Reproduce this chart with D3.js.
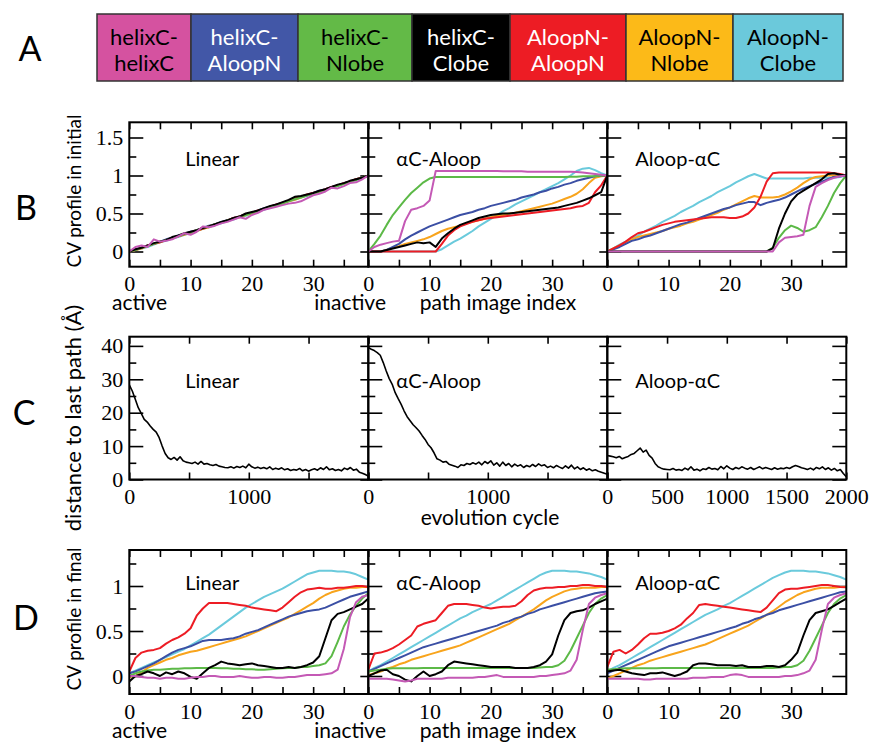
<!DOCTYPE html>
<html>
<head>
<meta charset="utf-8">
<script src="https://cdn.jsdelivr.net/npm/d3@7"></script>
<style>
 body { margin: 0; background: #fff; }
</style>
</head>
<body>
<div id="chart"></div>
<script>
// ---- data ----
const seriesNames = ["helixC-helixC", "helixC-AloopN", "helixC-Nlobe", "helixC-Clobe", "AloopN-AloopN", "AloopN-Nlobe", "AloopN-Clobe"];
const lineColors = ["#c459b5", "#3b4fa4", "#5cb947", "#000000", "#ed1c24", "#f8a41c", "#6acadc"];
const legendFill = ["#d552a0", "#4257a7", "#63ba47", "#000000", "#ed1c24", "#fcba18", "#6bc9db"];
const legendText = ["#000", "#fff", "#000", "#fff", "#fff", "#000", "#000"];
const panelTitles = ["Linear", "αC-Aloop", "Aloop-αC"];

const pathIndex = [0,1,2,3,4,5,6,7,8,9,10,11,12,13,14,15,16,17,18,19,20,21,22,23,24,25,26,27,28,29,30,31,32,33,34,35,36,37,38,39];
const pathTicks = [0, 5, 10, 15, 20, 25, 30, 35];
const pathTickLabels = [0, 10, 20, 30];

// B: CV profile in initial path (order = seriesNames)
const bLinear_hh = [0,.06,.08,.06,.16, .13,.14,.16,.2,.24, .22,.26,.33,.32,.34, .37,.39,.42,.45,.43, .48,.51,.55,.57,.59, .61,.63,.64,.66,.7, .74,.76,.79,.84,.83, .86,.9,.91,.95,1];
const bLinear_hA = [0,.03,.05,.08,.1, .13,.16,.18,.21,.23, .26,.28,.31,.34,.36, .39,.41,.44,.46,.49, .51,.54,.57,.59,.62, .64,.67,.69,.72,.74, .77,.8,.82,.85,.87, .9,.92,.95,.97,1];
const bLinear_hN = [0,.02,.05,.07,.1, .13,.15,.18,.2,.23, .25,.28,.31,.33,.36, .38,.41,.43,.46,.48, .51,.53,.56,.58,.61, .63,.66,.69,.71,.74, .76,.79,.81,.84,.86, .89,.92,.94,.97,1];
const bLinear_hC = [0,.03,.05,.08,.11, .13,.15,.19,.21,.24, .26,.28,.31,.33,.36, .39,.41,.44,.46,.5, .52,.54,.57,.6,.62, .65,.68,.72,.73,.75, .77,.8,.82,.85,.88, .9,.93,.95,.97,1];
const bLinear_AA = [0,.02,.05,.08,.1, .12,.15,.18,.2,.23, .25,.28,.3,.33,.36, .38,.41,.44,.46,.49, .51,.54,.56,.59,.62, .64,.67,.7,.72,.75, .77,.79,.82,.85,.87, .9,.92,.95,.97,1];
const bLinear_AN = [0,.02,.04,.07,.1, .12,.15,.17,.2,.22, .25,.27,.3,.32,.35, .38,.4,.43,.45,.48, .5,.53,.56,.58,.61, .63,.66,.68,.71,.74, .76,.79,.81,.84,.87, .89,.92,.95,.97,1];
const bLinear_AC = [0,.02,.04,.06,.09, .12,.14,.17,.19,.22, .24,.27,.3,.32,.35, .37,.4,.42,.45,.47, .5,.53,.55,.58,.6, .63,.66,.68,.71,.73, .76,.79,.81,.84,.86, .89,.92,.94,.97,1];

const bCA_hh = [0,.06,.09,.11,.13, .14,.4,.55,.57,.6, .67,1.06,1.06,1.06,1.06, 1.06,1.06,1.06,1.06,1.06, 1.06,1.06,1.055,1.055,1.055, 1.055,1.05,1.05,1.05,1.05, 1.05,1.05,1.05,1.05,1.045, 1.04,1.03,1.02,1.01,1];
const bCA_hA = [0,0,0,.02,.06, .1,.16,.21,.25,.29, .33,.36,.39,.42,.45, .48,.5,.52,.55,.57, .6,.62,.64,.66,.68, .71,.73,.75,.78,.8, .83,.85,.88,.9,.93, .95,.97,.99,1,1];
const bCA_hN = [0,.1,.21,.35,.48, .58,.68,.77,.84,.91, .96,.98,.98,.98,.98, .98,.98,.98,.98,.98, .98,.98,.98,.98,.98, .98,.98,.98,.98,.98, .98,.98,.98,.985,.985, .99,.99,.99,1,1];
const bCA_hC = [0,0,0,.02,.04, .06,.08,.1,.12,.11, .12,.06,.17,.24,.3, .35,.38,.41,.44,.46, .48,.49,.5,.5,.51, .52,.53,.54,.55,.56, .57,.58,.6,.62,.64, .67,.7,.74,.78,1];
const bCA_AA = [0,0,0,0,0, 0,0,0,0,0, 0,0,.1,.21,.28, .33,.36,.39,.41,.43, .44,.45,.46,.47,.48, .49,.5,.51,.52,.53, .54,.55,.56,.57,.59, .6,.64,.78,.87,1];
const bCA_AN = [0,0,0,.02,.05, .07,.1,.12,.14,.16, .19,.23,.27,.3,.32, .34,.37,.39,.41,.43, .45,.47,.48,.5,.51, .53,.55,.57,.59,.61, .63,.66,.69,.72,.76, .82,.9,.97,.99,1];
const bCA_AC = [0,0,0,0,0, 0,0,0,0,0, 0,0,.03,.08,.13, .17,.22,.27,.33,.38, .43,.48,.53,.57,.62, .66,.7,.74,.78,.82, .86,.9,.95,1,1.06, 1.09,1.1,1.07,1.03,1];

const bAC_hh = [0,0,0,0,0, 0,0,0,0,0, 0,0,0,0,0, 0,0,0,0,0, 0,0,0,0,0, 0,0,0,.12,.18, .19,.2,.22,.6,.85, .9,.94,.97,.99,1];
const bAC_hA = [0,.03,.06,.1,.14, .16,.19,.21,.24,.27, .3,.33,.36,.38,.41, .44,.47,.5,.53,.56, .58,.61,.63,.65,.65, .61,.64,.66,.68,.71, .75,.79,.83,.86,.89, .92,.95,.98,.99,1];
const bAC_hN = [0,0,0,0,0, 0,0,0,0,0, 0,0,0,0,0, 0,0,0,0,0, 0,0,0,0,0, 0,0,.05,.18,.28, .34,.31,.26,.28,.32, .45,.6,.77,.9,1];
const bAC_hC = [0,0,0,0,0, 0,0,0,0,0, 0,0,0,0,0, 0,0,0,0,0, 0,0,0,0,0, 0,0,.04,.3,.5, .66,.75,.8,.85,.9, .95,1.02,1.03,1.01,1];
const bAC_AA = [0,.04,.08,.13,.19, .24,.26,.29,.32,.35, .37,.39,.4,.41,.42, .43,.44,.45,.45,.45, .44,.44,.46,.5,.58, .72,.92,1.03,1.04,1.04, 1.04,1.04,1.04,1.04,1.04, 1.04,1.04,1.03,1.02,1];
const bAC_AN = [0,.04,.08,.12,.16, .19,.21,.23,.25,.27, .3,.32,.34,.37,.39, .42,.45,.48,.51,.55, .58,.62,.66,.7,.73, .71,.71,.71,.72,.75, .79,.84,.9,.95,.98, .99,1,1,1,1];
const bAC_AC = [0,.04,.09,.13,.17, .21,.26,.3,.34,.39, .43,.47,.52,.56,.6, .65,.69,.73,.78,.82, .86,.91,.95,.99,1.02, .99,.96,.96,.96,.96, .96,.96,.96,.97,.97, .97,.97,.97,.98,1];

// D: CV profile in final path
const dLinear_hh = [0,0,-.01,-.02,-.02, -.03,-.02,-.02,-.03,-.03, -.02,-.01,-.01,0,0, -.01,-.01,-.01,0,-.01, -.02,-.02,-.01,-.01,-.02, -.02,-.01,-.01,0,.01, .01,.01,.02,.03,.07, .3,.65,.82,.88,.9];
const dLinear_hA = [.03,.05,.08,.11,.14, .18,.22,.26,.29,.31, .33,.36,.39,.4,.4, .4,.41,.42,.44,.47, .49,.51,.54,.57,.6, .63,.66,.68,.7,.72, .73,.74,.76,.79,.82, .85,.88,.9,.92,.94];
const dLinear_hN = [0,.03,.05,.06,.07, .07,.075,.08,.08,.085, .085,.09,.09,.09,.09, .085,.085,.08,.08,.075, .075,.07,.07,.075,.08, .085,.09,.09,.1,.1, .11,.12,.14,.22,.38, .55,.68,.78,.86,.92];
const dLinear_hC = [-.06,0,.02,.05,.03, 0,.04,.02,.05,.03, -.01,-.03,.03,.09,.12, .16,.14,.13,.12,.13, .14,.12,.11,.1,.09, .09,.1,.09,.1,.12, .15,.22,.42,.62,.69, .71,.74,.77,.8,.86];
const dLinear_AA = [.05,.2,.26,.28,.29, .31,.36,.4,.43,.47, .53,.67,.75,.81,.81, .81,.81,.8,.79,.78, .76,.75,.74,.73,.72, .76,.82,.88,.93,.96, .97,.98,.97,.97,.98, .98,.99,1,1,.99];
const dLinear_AN = [-.01,0,.04,.09,.12, .15,.18,.2,.23,.25, .27,.28,.3,.32,.34, .36,.38,.4,.42,.44, .47,.5,.53,.56,.59, .62,.65,.69,.73,.77, .81,.86,.9,.93,.95, .97,.98,.98,.99,.99];
const dLinear_AC = [.03,.06,.09,.12,.15, .18,.21,.24,.27,.3, .34,.38,.42,.46,.51, .56,.61,.66,.71,.76, .8,.84,.88,.91,.94, .97,1.01,1.05,1.09,1.13, 1.15,1.17,1.17,1.17,1.16, 1.16,1.15,1.13,1.1,1.07];

const dCA_hh = [-.03,-.03,-.03,-.03,-.04, -.05,-.06,-.05,-.03,-.03, -.03,-.03,-.03,-.02,-.02, -.02,-.02,-.02,-.01,-.01, 0,.01,-.01,-.01,-.01, -.01,-.01,-.01,0,0, .01,.02,.03,.06,.18, .51,.8,.87,.9,.92];
const dCA_hA = [.05,.08,.11,.14,.17, .2,.23,.26,.29,.32, .34,.36,.38,.4,.42, .44,.46,.48,.5,.52, .54,.56,.59,.61,.64, .66,.69,.71,.74,.76, .78,.8,.82,.84,.86, .88,.9,.92,.93,.94];
const dCA_hN = [.05,.06,.07,.08,.085, .085,.085,.085,.085,.09, .09,.09,.09,.09,.09, .09,.09,.09,.09,.09, .09,.09,.09,.09,.09, .09,.09,.09,.095,.1, .1,.12,.17,.28,.42, .56,.7,.8,.86,.9];
const dCA_hC = [0,.03,.06,.07,.02, 0,-.04,-.06,0,.05, 0,.02,.05,.12,.16, .15,.14,.13,.12,.11, .1,.1,.1,.1,.09, .09,.09,.1,.12,.16, .24,.45,.62,.7,.72, .73,.76,.8,.83,.86];
const dCA_AA = [.07,.25,.26,.28,.31, .35,.4,.45,.55,.58, .6,.62,.7,.78,.8, .8,.8,.79,.78,.76, .75,.76,.77,.77,.78, .83,.9,.95,.97,.98, .98,.99,.99,1,1, 1.01,1.01,1,1,.99];
const dCA_AN = [.01,.03,.05,.08,.1, .13,.15,.18,.2,.22, .24,.26,.28,.3,.32, .34,.37,.4,.43,.46, .49,.52,.55,.58,.62, .66,.7,.74,.79,.84, .88,.91,.94,.96,.97, .98,.98,.98,.99,.99];
const dCA_AC = [.05,.09,.12,.16,.2, .24,.28,.32,.36,.4, .44,.48,.52,.56,.6, .64,.67,.71,.74,.77, .8,.84,.88,.92,.96, 1,1.04,1.08,1.12,1.15, 1.17,1.17,1.17,1.16,1.16, 1.15,1.14,1.12,1.1,1.07];

const dAC_hh = [-.03,-.03,-.03,-.03,-.03, -.03,-.04,-.04,-.03,-.03, -.03,-.03,-.03,-.03,-.02, -.02,-.02,-.01,-.01,-.01, .01,.02,.01,-.01,-.01, -.01,-.01,-.01,-.01,0, 0,.01,.03,.06,.18, .51,.8,.87,.9,.92];
const dAC_hA = [.03,.06,.09,.12,.15, .18,.21,.24,.27,.3, .33,.35,.37,.39,.41, .43,.45,.47,.49,.51, .53,.55,.58,.6,.63, .65,.68,.7,.73,.75, .77,.79,.81,.83,.85, .87,.89,.91,.93,.94];
const dAC_hN = [.07,.075,.08,.085,.085, .085,.085,.085,.085,.09, .09,.09,.09,.09,.09, .09,.09,.09,.09,.09, .09,.09,.09,.09,.09, .09,.09,.09,.095,.1, .1,.12,.17,.28,.42, .56,.7,.8,.86,.9];
const dAC_hC = [.05,.06,.07,.05,.03, .02,.01,.03,.03,.04, .02,0,.02,.05,.12, .14,.14,.13,.12,.12, .12,.11,.12,.1,.1, .1,.11,.11,.1,.12, .18,.26,.45,.62,.7, .72,.74,.78,.82,.86];
const dAC_AA = [.1,.27,.29,.25,.29, .35,.42,.47,.47,.48, .5,.53,.57,.64,.7, .79,.8,.79,.78,.77, .76,.75,.74,.73,.72, .71,.76,.84,.92,.96, .97,.97,.98,.99,1, 1.01,1.01,1,.99,.985];
const dAC_AN = [-.03,0,.03,.06,.09, .12,.14,.17,.19,.21, .23,.25,.27,.29,.31, .33,.35,.38,.41,.44, .47,.5,.53,.56,.6, .64,.68,.72,.77,.82, .86,.9,.93,.95,.97, .98,.98,.98,.99,.99];
const dAC_AC = [.05,.09,.12,.16,.2, .24,.28,.32,.36,.4, .44,.48,.52,.56,.6, .64,.68,.71,.74,.78, .81,.85,.89,.93,.97, 1.01,1.05,1.09,1.12,1.15, 1.17,1.17,1.17,1.16,1.16, 1.15,1.14,1.12,1.1,1.07];

// C: distance to last path (Å) vs evolution cycle
const cycles = [0,25,50,75,100,125,150,175,200,225, 250,275,300,325,350,375,400,425,450,475, 500,525,550,575,600,625,650,675,700,725, 750,775,800,825,850,875,900,925,950,975, 1000,1025,1050,1075,1100,1125,1150,1175,1200,1225, 1250,1275,1300,1325,1350,1375,1400,1425,1450,1475, 1500,1525,1550,1575,1600,1625,1650,1675,1700,1725, 1750,1775,1800,1825,1850,1875,1900,1925,1950,1975, 2000];
const cycleTicks = [0, 500, 1000, 1500, 2000];
const cLinear = [28.3,26.5,24.0,21.5,19.8,18.0,17.2,16.0,15.0,14.2, 12.5,10.0,7.8,6.5,6.0,6.6,5.8,6.8,5.6,5.2, 5.0,4.8,5.2,4.6,5.4,4.6,4.8,4.4,4.2,4.5, 4.0,3.8,3.6,3.5,3.8,3.4,3.9,3.6,4.0,3.5, 4.6,3.8,3.4,3.7,3.3,3.6,3.2,3.8,3.0,3.4, 3.1,3.5,2.9,3.2,2.7,3.0,2.8,3.3,2.6,3.0, 2.5,2.9,3.2,2.8,3.5,3.0,3.8,2.9,3.2,2.7, 3.0,2.6,3.4,3.0,3.6,2.8,3.1,2.2,1.9,1.5, 1.0];
const cCA = [39.5,39.0,38.6,38.0,37.2,35.0,32.5,30.2,28.5,26.0, 24.2,22.5,20.5,18.8,17.6,16.4,15.5,14.5,13.2,12.0, 10.5,9.5,8.0,6.2,5.8,5.2,5.4,4.6,4.3,4.0, 3.6,4.4,4.2,4.8,4.5,5.0,4.6,5.2,4.4,5.4, 4.8,5.6,4.3,5.0,4.0,5.2,4.2,4.8,3.8,4.6, 4.0,4.4,3.6,4.2,3.8,4.5,3.9,4.7,4.1,4.4, 3.6,4.0,3.5,4.2,3.7,3.3,4.1,3.4,4.3,3.2, 3.8,3.0,3.5,2.8,3.2,2.6,2.9,2.5,2.2,1.9, 1.6];
const cAC = [7.2,7.0,6.8,6.5,6.9,6.2,6.6,6.9,7.5,7.8, 8.6,9.4,8.2,8.8,7.2,6.4,4.8,3.8,3.4,3.1, 3.0,2.9,3.3,2.8,3.0,2.7,3.4,2.9,3.8,2.8, 3.1,2.6,3.2,3.0,3.6,3.1,3.3,2.9,3.9,3.2, 4.1,3.4,3.0,3.6,3.2,3.8,3.4,3.1,3.6,3.0, 3.4,3.8,3.2,3.6,3.3,3.0,3.5,3.1,3.4,3.2, 3.6,3.3,3.8,4.2,3.9,3.5,3.3,3.0,3.4,2.9, 3.6,3.2,3.8,3.0,3.5,2.8,3.3,2.6,3.0,1.8, 0.8];

// series in each panel (same order as seriesNames)
const bPanels = [
 [bLinear_hh, bLinear_hA, bLinear_hN, bLinear_hC, bLinear_AA, bLinear_AN, bLinear_AC],
 [bCA_hh, bCA_hA, bCA_hN, bCA_hC, bCA_AA, bCA_AN, bCA_AC],
 [bAC_hh, bAC_hA, bAC_hN, bAC_hC, bAC_AA, bAC_AN, bAC_AC]
];
const dPanels = [
 [dLinear_hh, dLinear_hA, dLinear_hN, dLinear_hC, dLinear_AA, dLinear_AN, dLinear_AC],
 [dCA_hh, dCA_hA, dCA_hN, dCA_hC, dCA_AA, dCA_AN, dCA_AC],
 [dAC_hh, dAC_hA, dAC_hN, dAC_hC, dAC_AA, dAC_AN, dAC_AC]
];
const cPanels = [cLinear, cCA, cAC];

// ---- layout ----
const width = 869, height = 744;
const panelX = [129.3, 368.3, 607.3];
const panelW = 239;
const rowB = { top: 122.3, h: 144.4, y: [-0.2, 1.7] };
const rowC = { top: 336.7, h: 142.8, y: [0, 42.75] };
const rowD = { top: 550, h: 144, y: [-0.2, 1.4] };
const drawOrder = [6, 5, 1, 4, 2, 3, 0];

const serif = "'Liberation Serif', 'Times New Roman', Times, serif";
const sans = "Lato, 'Open Sans', sans-serif";

const svg = d3.select("#chart").append("svg").attr("width", width).attr("height", height);
svg.append("rect").attr("width", width).attr("height", height).attr("fill", "#fff");

function styleAxis(sel) {
 sel.attr("font-family", null).attr("font-size", null);
 sel.select(".domain").remove();
 sel.selectAll("line").attr("stroke", "#000").attr("stroke-width", 1.6);
 sel.selectAll("text").filter(function () { return !this.textContent; }).remove();
 sel.selectAll("text")
  .attr("font-family", serif)
  .style("font-family", serif)
  .style("font-size", "22px")
  .attr("fill", "#000");
}

const numFmt = (d) => String(d);

function makePanel(row, col, xDomain, xTicks, xLabels, yMajor, yMinor, panelId) {
 const g = svg.append("g").attr("transform", `translate(${panelX[col]},${row.top})`);
 const x = d3.scaleLinear().domain(xDomain).range([0, panelW]);
 const y = d3.scaleLinear().domain(row.y).range([row.h, 0]);

 g.append("clipPath").attr("id", "clip" + panelId)
  .append("rect").attr("width", panelW).attr("height", row.h);

 // bottom ticks + labels
 g.append("g").attr("transform", `translate(0,${row.h})`)
  .call(d3.axisBottom(x).tickValues(xTicks).tickSize(-7).tickFormat(""))
  .call(styleAxis);
 g.append("g").attr("transform", `translate(0,${row.h})`)
  .call(d3.axisBottom(x).tickValues(xLabels).tickSize(0).tickPadding(9).tickFormat(numFmt))
  .call(styleAxis);
 // top ticks
 g.append("g")
  .call(d3.axisTop(x).tickValues(xTicks).tickSize(-7).tickFormat(""))
  .call(styleAxis);
 // left ticks
 const left = d3.axisLeft(y).tickValues(yMajor).tickSize(-14).tickPadding(6).tickFormat(numFmt);
 if (col > 0) left.tickFormat("");
 g.append("g").call(left).call(styleAxis);
 g.append("g").call(d3.axisLeft(y).tickValues(yMinor).tickSize(-7).tickFormat("")).call(styleAxis);
 // right ticks
 g.append("g").attr("transform", `translate(${panelW},0)`)
  .call(d3.axisRight(y).tickValues(yMajor).tickSize(col === 2 ? -14 : -8).tickFormat(""))
  .call(styleAxis);
 g.append("g").attr("transform", `translate(${panelW},0)`)
  .call(d3.axisRight(y).tickValues(yMinor).tickSize(-7).tickFormat(""))
  .call(styleAxis);

 const plot = g.append("g").attr("clip-path", `url(#clip${panelId})`);
 return { g, x, y, plot };
}

function frame(p, row) {
 p.g.append("rect").attr("width", panelW).attr("height", row.h)
  .attr("fill", "none").attr("stroke", "#000").attr("stroke-width", 2);
}

// ---- B and D rows ----
[[rowB, bPanels, "b"], [rowD, dPanels, "d"]].forEach(([row, panels, key]) => {
 const yMajor = key === "b" ? [0, 0.5, 1, 1.5] : [0, 0.5, 1];
 const yMinor = [0.25, 0.75, 1.25];
 panels.forEach((series, col) => {
  const p = makePanel(row, col, [0, 39], pathTicks, pathTickLabels, yMajor, yMinor, key + col);
  const line = d3.line().x((d, i) => p.x(pathIndex[i])).y((d) => p.y(d));
  drawOrder.forEach((s) => {
   p.plot.append("path")
    .attr("d", line(series[s]))
    .attr("fill", "none")
    .attr("stroke", lineColors[s])
    .attr("stroke-width", 2)
    .attr("stroke-linejoin", "round");
  });
  frame(p, row);
 });
});

// ---- C row ----
cPanels.forEach((vals, col) => {
 const labels = col === 2 ? cycleTicks : [0, 1000];
 const p = makePanel(rowC, col, [0, 2000], cycleTicks, labels, [0, 10, 20, 30, 40], [5, 15, 25, 35], "c" + col);
 const line = d3.line().x((d, i) => p.x(cycles[i])).y((d) => p.y(d));
 p.plot.append("path")
  .attr("d", line(vals))
  .attr("fill", "none")
  .attr("stroke", "#000")
  .attr("stroke-width", 1.6)
  .attr("stroke-linejoin", "round");
 frame(p, rowC);
});

// ---- panel titles ----
const titleBase = [166, 388, 590];
titleBase.forEach((yb) => {
 panelTitles.forEach((t, col) => {
  svg.append("text")
   .attr("x", panelX[col] + (col === 0 ? 56 : 28))
   .attr("y", yb)
   .attr("font-family", sans)
   .attr("font-size", 20)
   .text(t);
 });
});

// ---- axis titles ----
function sansText(x, y, t, anchor, size) {
 return svg.append("text").attr("x", x).attr("y", y)
  .attr("font-family", sans).attr("font-size", size || 21)
  .attr("text-anchor", anchor || "start").text(t);
}
[310, 738].forEach((yb) => {
 sansText(112, yb, "active");
 sansText(386, yb, "inactive", "end");
 sansText(498, yb, "path image index", "middle");
});
sansText(490, 525, "evolution cycle", "middle");

[["CV profile in initial", 191, 19], ["distance to last path (Å)", 418, 22], ["CV profile in final", 619, 19]].forEach(([t, cy, fs]) => {
 svg.append("text")
  .attr("transform", `translate(81,${cy}) rotate(-90)`)
  .attr("text-anchor", "middle")
  .attr("font-family", sans)
  .attr("font-size", fs)
  .text(t);
});

// ---- panel letters ----
[["A", 30, 61], ["B", 26, 220], ["C", 24, 425], ["D", 26, 630]].forEach(([t, x, yb]) => {
 svg.append("text").attr("x", x).attr("y", yb)
  .attr("text-anchor", "middle")
  .attr("font-family", sans)
  .attr("font-size", 34)
  .text(t);
});

// ---- legend (A) ----
const legendEdges = [97, 191, 298, 412, 510, 626, 733, 843];
const legendTop = 14, legendH = 67;
const legend = svg.append("g");
seriesNames.forEach((name, i) => {
 const x0 = legendEdges[i], w = legendEdges[i + 1] - x0;
 legend.append("rect")
  .attr("x", x0).attr("y", legendTop).attr("width", w).attr("height", legendH)
  .attr("fill", legendFill[i]).attr("stroke", "#333").attr("stroke-width", 1.5);
 const parts = name.split("-");
 const txt = legend.append("text")
  .attr("text-anchor", "middle")
  .attr("font-family", sans)
  .attr("font-size", 22)
  .attr("fill", legendText[i]);
 txt.append("tspan").attr("x", x0 + w / 2).attr("y", 45).text(parts[0] + "-");
 txt.append("tspan").attr("x", x0 + w / 2).attr("y", 71).text(parts[1]);
});
</script>
</body>
</html>
